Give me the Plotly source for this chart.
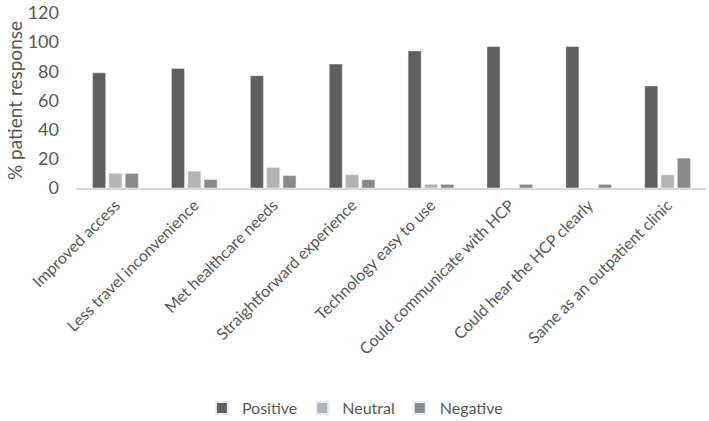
import plotly.graph_objects as go

categories = ["Improved access", "Less travel inconvenience", "Met healthcare needs",
              "Straightforward experience", "Technology easy to use",
              "Could communicate with HCP", "Could hear the HCP clearly",
              "Same as an outpatient clinic"]
positive = [79, 82, 77, 85, 94, 97, 97, 70]
neutral = [10, 11.5, 14, 9, 2.5, 0, 0, 9]
negative = [10, 5.8, 8.5, 5.7, 2.5, 2.5, 2.5, 20.5]
y_ticks = [0, 20, 40, 60, 80, 100, 120]

font_family = "Lato, 'Open Sans', sans-serif"
text_color = "#595959"

fig = go.Figure()
fig.add_trace(go.Bar(name="Positive", x=categories, y=positive, marker_color="#5f5f5f"))
fig.add_trace(go.Bar(name="Neutral", x=categories, y=neutral, marker_color="#b4b4b4"))
fig.add_trace(go.Bar(name="Negative", x=categories, y=negative, marker_color="#8a8a8a"))

fig.update_layout(
    width=709, height=421,
    margin=dict(l=76, r=2, t=13, b=233, autoexpand=False),
    paper_bgcolor="white", plot_bgcolor="white",
    barmode="group", bargap=0.38, bargroupgap=0.2,
    font=dict(family=font_family, color=text_color),
    legend=dict(orientation="h", x=0.442, xanchor="center", y=-1.257, yanchor="middle",
                font=dict(size=16, color=text_color), traceorder="normal",
                itemwidth=30, itemsizing="constant"),
    xaxis=dict(tickangle=-45, tickfont=dict(size=16, color=text_color),
               showline=True, linecolor="#d9d9d9", linewidth=1.5, ticks="",
               showgrid=False, automargin=False),
    yaxis=dict(range=[0, 120], tickvals=y_ticks, showgrid=False, zeroline=False,
               showline=False, tickfont=dict(size=18, color=text_color),
               ticklabelstandoff=16, automargin=False,
               title=dict(text="% patient response", font=dict(size=19, color=text_color),
                          standoff=0)),
)
fig.write_html(
    "out.html",
    config={"displayModeBar": False},
    post_script="document.body.style.margin='0';document.body.style.overflow='hidden';",
)
